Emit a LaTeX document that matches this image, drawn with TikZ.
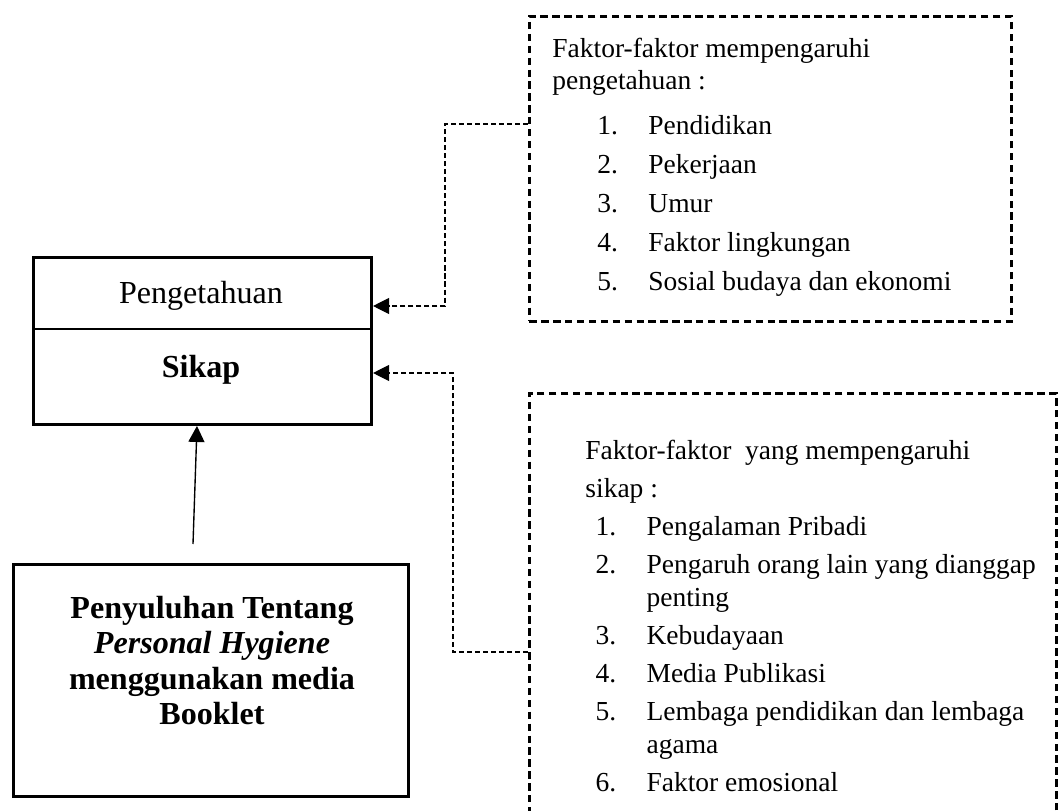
\documentclass[tikz,border=0pt]{standalone}
\usepackage{fontspec}
\setmainfont{Liberation Serif}
\usetikzlibrary{arrows.meta,positioning}

\tikzset{
    solidbox/.style={draw, line width=1.3pt, inner sep=0pt, anchor=north west},
    factorbox/.style={draw, line width=1.2pt, dash pattern=on 3.2pt off 2pt,
        inner sep=0pt, anchor=north west},
    link/.style={line width=0.5pt, dash pattern=on 2.2pt off 1.3pt},
    tip/.style={-{Triangle[length=7pt, width=7pt]}},
    listtext/.style={inner sep=0pt, anchor=base west, font=\fontsize{12}{14.4}\selectfont}
}

\begin{document}
\begin{tikzpicture}[x=0.4366pt, y=-0.4366pt]
    \useasboundingbox (0,0) rectangle (1064,811);
    \clip (0,0) rectangle (1064,811);

    \node[solidbox, minimum width=147.6pt, minimum height=72.9pt] (hasil) at (32,256) {};
    \draw[line width=0.6pt] (hasil.west |- 0,329) -- (hasil.east |- 0,329);
    \node[anchor=base, inner sep=0pt, font=\fontsize{14}{16}\selectfont] (tahu) at (201,303) {Pengetahuan};
    \node[anchor=base, inner sep=0pt, font=\fontsize{14}{16}\selectfont\bfseries] (sikap) at (201,377) {Sikap};

    \node[solidbox, minimum width=172.5pt, minimum height=101.3pt] (penyuluhan) at (12,563) {};
    \node[anchor=north, inner sep=0pt, align=center, font=\fontsize{14}{15.4}\selectfont\bfseries]
        (judul) at (212,596) {Penyuluhan Tentang\\ \textit{Personal Hygiene}\\ menggunakan media\\ Booklet};

    \node[factorbox, minimum width=210.4pt, minimum height=133.2pt] (faktortahu) at (528,15) {};
    \node[listtext] (daftartahu) at (552,57) {%
        \begin{tabular}[t]{@{\hspace{19.6pt}}p{22.3pt}@{}l@{}}
            \multicolumn{2}{@{}l@{}}{Faktor-faktor mempengaruhi}\\
            \multicolumn{2}{@{}l@{}}{pengetahuan :}\\[5.2pt]
            1. & Pendidikan\\[2.6pt]
            2. & Pekerjaan\\[2.6pt]
            3. & Umur\\[2.6pt]
            4. & Faktor lingkungan\\[2.6pt]
            5. & Sosial budaya dan ekonomi
        \end{tabular}};

    \node[factorbox, minimum width=230.1pt, minimum height=191.2pt] (faktorsikap) at (528,392) {};
    \node[listtext] (daftarsikap) at (585,459) {%
        \begin{tabular}[t]{@{\hspace{4.4pt}}p{22.3pt}@{}l@{}}
            \multicolumn{2}{@{}l@{}}{Faktor-faktor\ \ yang mempengaruhi}\\[2.2pt]
            \multicolumn{2}{@{}l@{}}{sikap :}\\[2.2pt]
            1. & Pengalaman Pribadi\\[2.2pt]
            2. & Pengaruh orang lain yang dianggap\\
               & penting\\[2.2pt]
            3. & Kebudayaan\\[2.2pt]
            4. & Media Publikasi\\[2.2pt]
            5. & Lembaga pendidikan dan lembaga\\
               & agama\\[2.2pt]
            6. & Faktor emosional
        \end{tabular}};

    \draw[link, tip] (faktortahu.west |- 0,124) -- (445,124) |- (hasil.east |- 0,306);
    \draw[link, tip] (faktorsikap.west |- 0,652) -- (453,652) |- (hasil.east |- 0,373);

    \coordinate (ekor) at (193,544);
    \draw[line width=0.6pt, tip] (ekor) -- (hasil.south -| 197,0);
\end{tikzpicture}
\end{document}
